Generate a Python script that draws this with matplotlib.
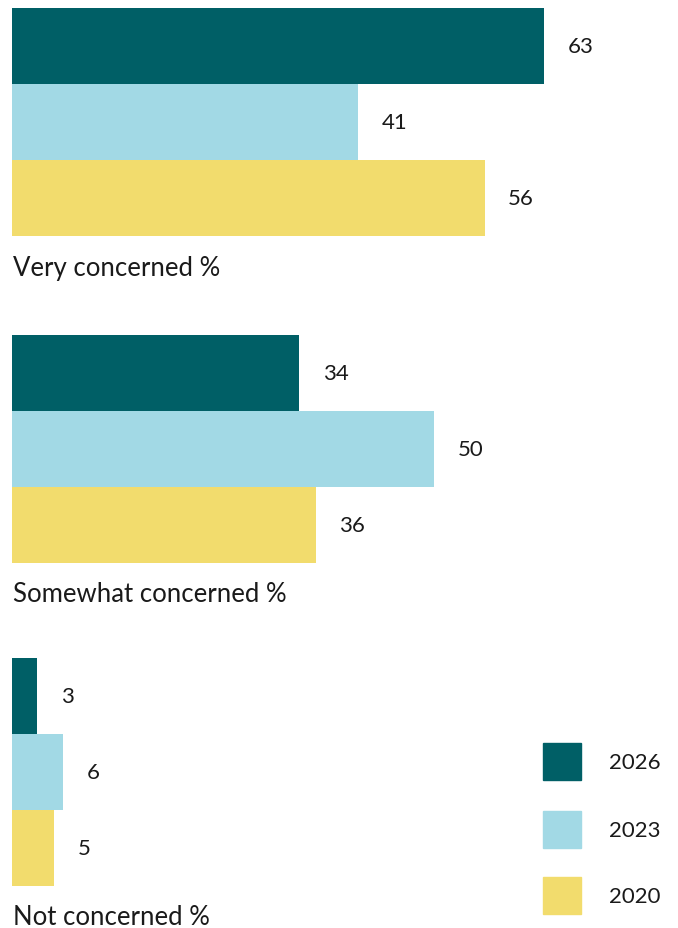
import matplotlib.pyplot as plt
from matplotlib.patches import Rectangle

# Share of respondents by level of concern, per survey year
categories = ['Very concerned %', 'Somewhat concerned %', 'Not concerned %']
years = ['2026', '2023', '2020']
values = {
    '2026': [63, 34, 3],
    '2023': [41, 50, 6],
    '2020': [56, 36, 5],
}
colors = {'2026': '#005F66', '2023': '#A2D9E5', '2020': '#F2DC6D'}

W, H = 678, 929
plt.rcParams['font.family'] = ['Lato', 'DejaVu Sans']
text_color = '#1a1a1a'

fig = plt.figure(figsize=(W / 100, H / 100), dpi=100)

# main axes: x in percent, y in pixels from the top
left_px = 12
px_per_unit = 8.44
ax = fig.add_axes([left_px / W, 0, 1 - left_px / W, 1])
ax.set_xlim(0, (W - left_px) / px_per_unit)
ax.set_ylim(H, 0)
ax.axis('off')

group_top = [9, 336, 659]
bar_h = 76

for g, cat in enumerate(categories):
    for i, yr in enumerate(years):
        yc = group_top[g] + bar_h * (i + 0.5)
        v = values[yr][g]
        ax.barh(yc, v, height=bar_h, color=colors[yr], left=0)
        ax.annotate(str(v), (v, yc), xytext=(17, 0), textcoords='offset points',
                    ha='left', va='center', fontsize=16, color=text_color)
    ax.text(0.1, group_top[g] + 3 * bar_h + 31, cat, ha='left', va='center',
            fontsize=18.5, color=text_color)

# legend drawn by hand in pixel coordinates
lax = fig.add_axes([0, 0, 1, 1])
lax.set_xlim(0, W)
lax.set_ylim(H, 0)
lax.axis('off')
leg_top = [744, 812, 878]
for yr, yt in zip(years, leg_top):
    lax.add_patch(Rectangle((543, yt), 38, 37, color=colors[yr]))
    lax.text(609, yt + 19, yr, ha='left', va='center', fontsize=16,
             color=text_color)

fig.savefig('out.png', dpi=100)
